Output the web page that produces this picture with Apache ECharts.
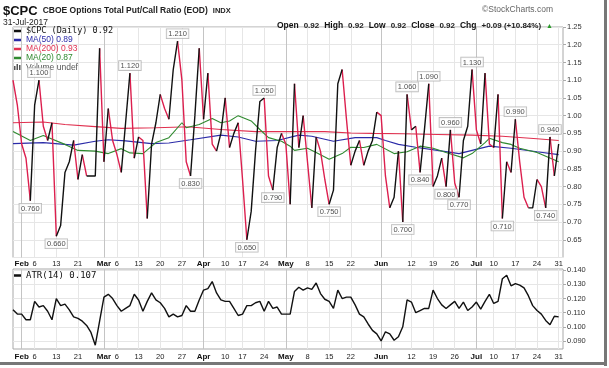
<!DOCTYPE html>
<html><head><meta charset="utf-8">
<script src="https://cdn.jsdelivr.net/npm/echarts@6/dist/echarts.min.js"></script>
<style>html,body{margin:0;padding:0;background:#fff}#c{width:609px;height:368px}</style>
</head><body><div id="c"></div>
<script>
// Trading days Jan 30 .. Jul 31 2017
const dates = ['1/30','1/31',
'2/1','2/2','2/3','2/6','2/7','2/8','2/9','2/10','2/13','2/14','2/15','2/16','2/17','2/21','2/22','2/23','2/24','2/27','2/28',
'3/1','3/2','3/3','3/6','3/7','3/8','3/9','3/10','3/13','3/14','3/15','3/16','3/17','3/20','3/21','3/22','3/23','3/24','3/27','3/28','3/29','3/30','3/31',
'4/3','4/4','4/5','4/6','4/7','4/10','4/11','4/12','4/13','4/17','4/18','4/19','4/20','4/21','4/24','4/25','4/26','4/27','4/28',
'5/1','5/2','5/3','5/4','5/5','5/8','5/9','5/10','5/11','5/12','5/15','5/16','5/17','5/18','5/19','5/22','5/23','5/24','5/25','5/26','5/30','5/31',
'6/1','6/2','6/5','6/6','6/7','6/8','6/9','6/12','6/13','6/14','6/15','6/16','6/19','6/20','6/21','6/22','6/23','6/26','6/27','6/28','6/29','6/30',
'7/3','7/5','7/6','7/7','7/10','7/11','7/12','7/13','7/14','7/17','7/18','7/19','7/20','7/21','7/24','7/25','7/26','7/27','7/28','7/31'];

const price = [1.10,1.03,
0.92,0.88,0.76,1.03,1.10,0.97,0.93,0.98,0.66,0.69,0.84,0.87,0.93,0.82,0.89,0.83,0.83,0.83,1.19,
0.87,1.02,0.93,0.89,0.84,0.98,1.12,0.88,0.94,0.93,0.71,0.92,0.98,1.06,1.02,0.99,1.13,1.21,1.10,0.87,0.83,1.00,1.19,
0.99,1.12,0.92,0.90,0.95,1.05,0.91,0.95,0.98,0.82,0.65,0.73,0.90,1.04,1.05,0.83,0.79,0.91,0.95,
0.92,0.75,1.09,0.91,1.00,0.87,0.74,0.94,0.90,0.82,0.75,0.79,1.09,1.13,0.99,0.86,0.90,0.93,0.86,0.90,0.93,1.01,
1.00,0.83,0.74,0.77,0.90,0.70,1.06,0.96,0.97,0.84,0.96,1.09,0.80,0.83,0.88,0.80,0.96,0.81,0.77,0.93,0.97,1.13,
0.96,0.92,1.12,0.92,0.91,1.06,0.71,0.87,0.84,0.99,0.87,0.77,0.74,0.74,0.82,0.80,0.74,0.94,0.83,0.92];

// moving averages read at sample days: [day index, value]
const ma200 = [[0,0.980],[7,0.982],[12,0.975],[19,0.969],[25,0.964],[33,0.966],[39,0.968],[41,0.968],[48,0.961],[56,0.955],[64,0.955],[72,0.955],[78,0.951],[83,0.950],[90,0.949],[98,0.947],[106,0.945],[113,0.942],[121,0.935],[126,0.930]];
const ma50 = [[0,0.921],[7,0.924],[14,0.917],[19,0.928],[22,0.932],[26,0.929],[32,0.921],[36,0.923],[41,0.932],[48,0.945],[52,0.940],[56,0.928],[61,0.930],[66,0.945],[69,0.942],[74,0.928],[79,0.938],[84,0.938],[86,0.930],[89,0.919],[93,0.911],[98,0.902],[103,0.893],[106,0.902],[110,0.914],[115,0.908],[121,0.898],[126,0.890]];
const ma20 = [[0,0.955],[4,0.930],[7,0.944],[12,0.919],[15,0.902],[19,0.900],[22,0.893],[25,0.907],[27,0.895],[30,0.893],[33,0.924],[36,0.938],[39,0.980],[40,0.966],[43,0.975],[46,0.992],[48,0.980],[50,0.985],[52,1.000],[55,0.985],[57,0.961],[59,0.938],[62,0.928],[64,0.914],[65,0.902],[68,0.908],[70,0.896],[73,0.877],[76,0.893],[78,0.911],[81,0.910],[84,0.919],[88,0.893],[91,0.898],[94,0.914],[97,0.908],[100,0.896],[104,0.881],[106,0.893],[109,0.924],[110,0.936],[113,0.924],[115,0.919],[117,0.908],[121,0.896],[126,0.870]];

const atr = [0.112,0.109,
0.109,0.105,0.105,0.118,0.114,0.115,0.111,0.105,0.120,0.115,0.116,0.112,0.107,0.106,0.104,0.101,0.096,0.087,0.104,
0.121,0.123,0.120,0.115,0.111,0.113,0.115,0.123,0.119,0.111,0.118,0.124,0.119,0.117,0.113,0.107,0.109,0.107,0.108,0.115,0.111,0.111,0.119,
0.126,0.127,0.132,0.124,0.119,0.118,0.118,0.113,0.108,0.109,0.115,0.115,0.117,0.118,0.111,0.118,0.113,0.114,0.109,
0.109,0.109,0.125,0.128,0.126,0.1275,0.1265,0.131,0.1235,0.1195,0.118,0.113,0.126,0.120,0.121,0.121,0.1155,0.109,0.107,0.102,0.0975,0.095,
0.090,0.0965,0.095,0.0905,0.093,0.100,0.119,0.1175,0.110,0.1115,0.113,0.113,0.126,0.120,0.1155,0.113,0.1155,0.118,0.113,0.1175,0.1115,0.114,
0.1175,0.1125,0.118,0.123,0.1165,0.118,0.134,0.1365,0.129,0.1305,0.1295,0.1275,0.122,0.115,0.1115,0.109,0.1045,0.1015,0.1075,0.107];

const tickDates = ['2/1','2/6','2/13','2/21','3/1','3/6','3/13','3/20','3/27','4/3','4/10','4/17','4/24','5/1','5/8','5/15','5/22','6/1','6/12','6/19','6/26','7/3','7/10','7/17','7/24','7/31'];
const tickText  = ['Feb','6','13','21','Mar','6','13','20','27','Apr','10','17','24','May','8','15','22','Jun','12','19','26','Jul','10','17','24','31'];
const monthDates = ['2/1','3/1','4/3','5/1','6/1','7/3'];
const lowerTicks = [0.09,0.10,0.11,0.12,0.13,0.14];
const highNotes = [6,27,38,58,91,96,101,106,116,124];
const lowNotes = [4,10,41,54,60,73,90,94,100,103,113,123];

const cats = dates.concat(['']);
const tickMap = {}; tickDates.forEach((d,i)=>tickMap[d]=tickText[i]);
const monthSet = new Set(monthDates);
const isTick = (i,v)=> tickMap[v] !== undefined;
const isMonth = (i,v)=> monthSet.has(v);

function runs(up){
  const out=[]; let open=false;
  for(let i=0;i<price.length-1;i++){
    const u = price[i+1] >= price[i];
    if(u===up){ if(!open){ out.push([i,price[i]]); open=true; } out.push([i+1,price[i+1]]); }
    else if(open){ out.push([i,'-']); open=false; }
  }
  return out;
}

const UP='#111111', DOWN='#dc1f4e', C200='#e0304f', C50='#2b2ba8', C20='#2f8a2f';
const FONT='Liberation Sans, Arial, sans-serif';

const xLabel = {
  interval: isTick, fontSize: 7.5, color:'#222', fontFamily: FONT,
  formatter: v => { const t = tickMap[v]; if(t===undefined) return ''; return monthSet.has(v) ? '{m|'+t+'}' : t; },
  rich: { m: { fontWeight:'bold', fontSize: 8, color:'#111', fontFamily: FONT } }
};
function xAxes(grid, margin){
  return [
    { type:'category', gridIndex:grid, data:cats, boundaryGap:false,
      axisLine:{show:false}, axisTick:{show:false},
      axisLabel:Object.assign({margin:margin}, xLabel),
      splitLine:{show:true, interval:isTick, lineStyle:{color:'#e6e6e6', width:1}} },
    { type:'category', gridIndex:grid, data:cats, boundaryGap:false, position:'top',
      axisLine:{show:false}, axisTick:{show:false}, axisLabel:{show:false},
      splitLine:{show:true, interval:isMonth, lineStyle:{color:'#c4c4c4', width:1}} }
  ];
}

const noteLabel = (pos) => ({
  show:true, position:pos, distance:3, fontSize:7.5, color:'#222', fontFamily: FONT,
  backgroundColor:'#fff', borderColor:'#aaa', borderWidth:0.8, padding:[1,1.5,0,1.5],
  formatter: p => p.value[1].toFixed(3)
});

const chart = echarts.init(document.getElementById('c'), null, {renderer:'canvas'});
chart.setOption({
  animation:false,
  backgroundColor:'#fff',
  title:[
    {left:3, top:2, padding:0, text:'{a|$CPC} {b|CBOE Options Total Put/Call Ratio (EOD)} {c|INDX}',
     textStyle:{rich:{a:{fontSize:13,fontWeight:'bold',color:'#111',fontFamily:FONT},
                      b:{fontSize:8.5,color:'#222',fontFamily:FONT},
                      c:{fontSize:7.5,color:'#222',fontFamily:FONT}}}},
    {left:3, top:18.5, padding:0, text:'31-Jul-2017', textStyle:{fontSize:8.5,fontWeight:'normal',color:'#222',fontFamily:FONT}},
    {right:56, top:17, padding:0,
     text:'{l|Open} {v|0.92} {l|High} {v|0.92} {l|Low} {v|0.92} {l|Close} {v|0.92} {l|Chg} {v|+0.09 (+10.84%)} {g|▲}',
     textStyle:{rich:{l:{fontSize:8.5,fontWeight:'bold',color:'#111',fontFamily:FONT},
                      v:{fontSize:8,color:'#222',fontFamily:FONT},
                      g:{fontSize:7,color:'#2a9a2a',fontFamily:FONT}}}},
    {right:56, top:5, padding:0, text:'©StockCharts.com', textStyle:{fontSize:8.5,fontWeight:'normal',color:'#666',fontFamily:FONT}}
  ],
  legend:[
    {left:14, top:26.5, orient:'vertical', itemGap:0, itemWidth:7, itemHeight:2.5, icon:'rect', padding:0, selectedMode:false, z:8,
     textStyle:{fontSize:8.5, lineHeight:9, fontFamily:FONT},
     data:[
       {name:'$CPC (Daily) 0.92', textStyle:{fontFamily:'DejaVu Sans Mono, monospace', color:'#111', fontSize:8.5}},
       {name:'MA(50) 0.89', textStyle:{color:C50}},
       {name:'MA(200) 0.93', textStyle:{color:C200}},
       {name:'MA(20) 0.87', textStyle:{color:C20}}
     ]},
    {left:14, top:270.5, orient:'vertical', itemWidth:7, itemHeight:2.5, icon:'rect', padding:0, selectedMode:false,
     textStyle:{fontSize:9, lineHeight:10, fontFamily:'DejaVu Sans Mono, monospace', color:'#111'},
     data:['ATR(14) 0.107']}
  ],
  graphic:[
    {type:'group', left:14, top:63, z:9, children:[
      {type:'rect', shape:{x:0,y:3,width:1.5,height:4}, style:{fill:'#555'}},
      {type:'rect', shape:{x:2.5,y:1,width:1.5,height:6}, style:{fill:'#555'}},
      {type:'rect', shape:{x:5,y:2,width:1.5,height:5}, style:{fill:'#555'}},
      {type:'text', x:12, y:0, style:{text:'Volume undef', fontSize:8.5, fill:'#555', fontFamily:FONT, backgroundColor:'rgba(255,255,255,0.85)'}}
    ]},
    {type:'rect', shape:{x:604, y:0, width:3, height:366}, style:{fill:'#777'}, silent:true},
    {type:'rect', shape:{x:0, y:362, width:607, height:3}, style:{fill:'#777'}, silent:true}
  ],
  grid:[
    {left:13, width:550, top:27, height:230.5, show:true, borderColor:'#a8a8a8', borderWidth:1, containLabel:false},
    {left:13, width:550, top:269, height:80, show:true, borderColor:'#a8a8a8', borderWidth:1, containLabel:false}
  ],
  xAxis: xAxes(0,2).concat(xAxes(1,4)),
  yAxis:[
    {type:'value', gridIndex:0, position:'right', min:0.6, max:1.25, interval:0.05, scale:true,
     axisLine:{show:false}, axisTick:{show:true, length:3, lineStyle:{color:'#aaa'}},
     axisLabel:{showMinLabel:false, margin:4, fontSize:7.5, color:'#333', fontFamily:FONT, formatter:v=>v.toFixed(2)},
     splitLine:{show:true, lineStyle:{color:'#e6e6e6'}}},
    {type:'value', gridIndex:1, position:'right', min:0.0843, max:0.1409, scale:true,
     axisLine:{show:false}, axisTick:{show:true, length:3, customValues:lowerTicks, lineStyle:{color:'#aaa'}},
     axisLabel:{customValues:lowerTicks, margin:4, fontSize:7.5, color:'#333', fontFamily:FONT, formatter:v=>v.toFixed(3)},
     splitLine:{show:true, lineStyle:{color:'#e6e6e6'}}}
  ],
  series:[
    {name:'MA(200) 0.93', type:'line', xAxisIndex:0, yAxisIndex:0, data:ma200, showSymbol:false, silent:true,
     lineStyle:{color:C200, width:1.1}, itemStyle:{color:C200}, z:2},
    {name:'MA(50) 0.89', type:'line', xAxisIndex:0, yAxisIndex:0, data:ma50, showSymbol:false, silent:true,
     lineStyle:{color:C50, width:1.1}, itemStyle:{color:C50}, z:2},
    {name:'MA(20) 0.87', type:'line', xAxisIndex:0, yAxisIndex:0, data:ma20, showSymbol:false, silent:true,
     lineStyle:{color:C20, width:1.1}, itemStyle:{color:C20}, z:2},
    {name:'$CPC down', type:'line', xAxisIndex:0, yAxisIndex:0, data:runs(false), showSymbol:false, silent:true, connectNulls:false,
     lineStyle:{color:DOWN, width:1.4}, itemStyle:{color:DOWN}, z:3},
    {name:'$CPC (Daily) 0.92', type:'line', xAxisIndex:0, yAxisIndex:0, data:runs(true), showSymbol:false, silent:true, connectNulls:false,
     lineStyle:{color:UP, width:1.4}, itemStyle:{color:UP}, z:3},
    {name:'highs', type:'scatter', xAxisIndex:0, yAxisIndex:0, symbolSize:0, silent:true, z:4,
     data: highNotes.map(k=>[k, price[k]]), label: noteLabel('top')},
    {name:'lows', type:'scatter', xAxisIndex:0, yAxisIndex:0, symbolSize:0, silent:true, z:4,
     data: lowNotes.map(k=>[k, price[k]]), label: noteLabel('bottom')},
    {name:'ATR(14) 0.107', type:'line', xAxisIndex:2, yAxisIndex:1, data:atr, showSymbol:false, silent:true,
     lineStyle:{color:'#111', width:1.4}, itemStyle:{color:'#111'}, z:3}
  ]
});
</script></body></html>
